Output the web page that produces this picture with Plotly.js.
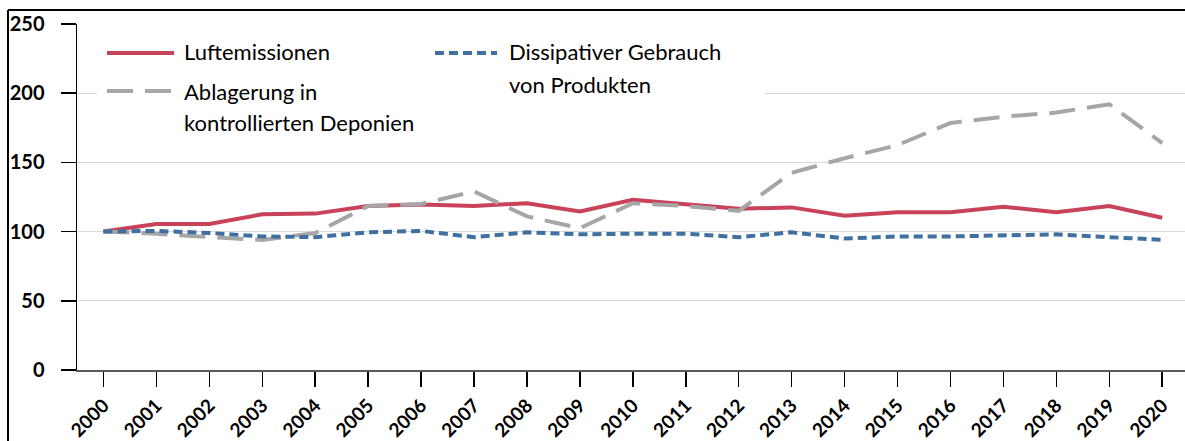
<!DOCTYPE html>
<html>
<head>
<meta charset="utf-8">
<script src="https://cdn.plot.ly/plotly-3.0.1.min.js"></script>
<style>
  html, body { margin: 0; padding: 0; background: #fff; }
  #chart { width: 1185px; height: 441px; }
</style>
</head>
<body>
<div id="chart"></div>
<script>
const years = [2000, 2001, 2002, 2003, 2004, 2005, 2006, 2007, 2008, 2009, 2010,
               2011, 2012, 2013, 2014, 2015, 2016, 2017, 2018, 2019, 2020];

const luftemissionen = [100, 105.5, 105.5, 112.5, 113, 118.5, 119.5, 118.5, 120.5, 114.5, 123,
                        119.5, 116.5, 117.5, 111.5, 114, 114, 118, 114, 118.5, 110];

const ablagerung = [100, 98.5, 96, 94, 99, 118.5, 120, 129, 111, 102.5, 120.5,
                    118.5, 115, 142.5, 153, 162.5, 178.5, 183, 186, 192, 164];

const dissipativ = [100, 100.5, 99, 96.5, 96, 99.5, 100.5, 96, 99.5, 98, 98.5,
                    98.5, 96, 99.5, 95, 96.5, 96.5, 97, 98, 96, 94];

const seriesNames = ["Luftemissionen", "Ablagerung in kontrollierten Deponien",
                     "Dissipativer Gebrauch von Produkten"];

const FONT = "Lato, 'Noto Sans', sans-serif";

const RED = "#c8435a";
const GREY = "#a6a6a6";
const BLUE = "#4070a0";

const W = 1185, H = 441;
const M = { l: 77, r: 0, t: 24, b: 71 };

// pixel -> paper helpers, used for the frame and the hand-made legend
const px = x => (x - M.l) / (W - M.l - M.r);
const py = y => (H - M.b - y) / (H - M.t - M.b);

const traces = [
    {
        x: years,
        y: luftemissionen,
        mode: "lines",
        name: seriesNames[0],
        line: { color: RED, width: 4 }
    },
    {
        x: years,
        y: ablagerung,
        mode: "lines",
        name: seriesNames[1],
        line: { color: GREY, width: 4, dash: "26px,12px" }
    },
    {
        x: years,
        y: dissipativ,
        mode: "lines",
        name: seriesNames[2],
        line: { color: BLUE, width: 4, dash: "9px,5px" }
    }
];

function legendLine(x0, x1, y, line) {
    return {
        type: "line", xref: "paper", yref: "paper",
        x0: px(x0), x1: px(x1), y0: py(y), y1: py(y),
        line: line, layer: "above"
    };
}

function legendText(x, y, text) {
    return {
        xref: "paper", yref: "paper",
        x: px(x), y: py(y),
        xanchor: "left", yanchor: "middle",
        text: text, showarrow: false,
        font: { family: FONT, size: 22, color: "#000" }
    };
}

const shapes = [
    // outer frame (top and left only)
    { type: "line", xref: "paper", yref: "paper", x0: px(8), x1: 1, y0: py(10), y1: py(10),
      line: { color: "#000", width: 2 } },
    { type: "line", xref: "paper", yref: "paper", x0: px(8), x1: px(8), y0: py(10), y1: py(441),
      line: { color: "#000", width: 2 } },
    // legend background
    { type: "rect", xref: "paper", yref: "paper", x0: px(97), x1: px(765), y0: py(30), y1: py(146),
      fillcolor: "#fff", line: { width: 0 }, layer: "above" },
    legendLine(107, 174, 53, { color: RED, width: 4 }),
    legendLine(107, 174, 91, { color: GREY, width: 4, dash: "26px,12px" }),
    legendLine(435, 497, 53, { color: BLUE, width: 4, dash: "9px,5px" })
];

const annotations = [
    legendText(182, 52, "Luftemissionen"),
    legendText(182, 91, "Ablagerung in"),
    legendText(182, 122, "kontrollierten Deponien"),
    legendText(507, 52, "Dissipativer Gebrauch"),
    legendText(507, 84, "von Produkten")
];

const layout = {
    width: W,
    height: H,
    margin: M,
    paper_bgcolor: "#fff",
    plot_bgcolor: "#fff",
    showlegend: false,
    font: { family: FONT, color: "#000" },
    xaxis: {
        range: [1999.5, 2020.43],
        tickvals: years,
        ticktext: years.map(String),
        tickangle: -45,
        ticks: "outside",
        ticklen: 15,
        tickwidth: 1.5,
        tickcolor: "#000",
        showline: true,
        linecolor: "#595959",
        linewidth: 2,
        showgrid: false,
        zeroline: false,
        tickfont: { family: FONT, size: 19, color: "#000", weight: "bold" }
    },
    yaxis: {
        range: [0, 250],
        dtick: 50,
        tick0: 0,
        ticks: "outside",
        ticklen: 15,
        tickwidth: 1.5,
        tickcolor: "#000",
        showline: true,
        linecolor: "#000",
        linewidth: 1.5,
        gridcolor: "#d9d9d9",
        gridwidth: 1,
        zeroline: false,
        ticklabelstandoff: 12,
        tickfont: { family: FONT, size: 20, color: "#000", weight: "bold" }
    },
    shapes: shapes,
    annotations: annotations
};

Plotly.newPlot("chart", traces, layout, { staticPlot: true, displayModeBar: false });
</script>
</body>
</html>
